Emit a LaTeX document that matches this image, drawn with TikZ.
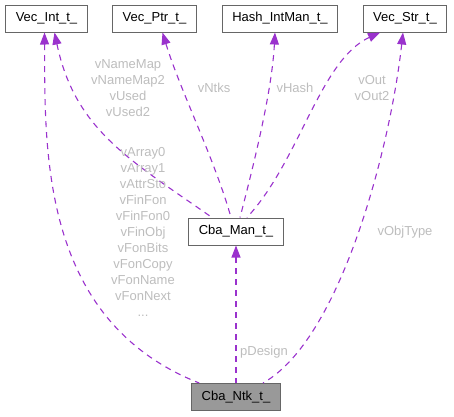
\documentclass[tikz,border=0pt]{standalone}
\usepackage{fontspec}
\setmainfont{Liberation Sans}
\usetikzlibrary{arrows.meta}
\definecolor{edgepurple}{HTML}{9A32CD}
\definecolor{boxgray}{HTML}{666666}
\definecolor{labelgray}{HTML}{BDBDBD}
\begin{document}
\begin{tikzpicture}[x=1pt,y=-1pt,
  structbox/.style={draw=boxgray,line width=1pt,fill=white,minimum height=27pt,inner xsep=10pt,inner ysep=2pt,font=\fontsize{13}{16}\selectfont},
  usage/.style={draw=edgepurple,line width=1.1pt,dash pattern=on 6pt off 5pt,{Triangle[length=12pt,width=9pt]}-},
  memberlabel/.style={text=labelgray,align=center,font=\fontsize{13}{16}\selectfont}]
\useasboundingbox (0,0) rectangle (454,416);
\node[structbox] (vecint) at (46.5,18.5) {Vec\_Int\_t\_};
\node[structbox] (vecptr) at (154.5,18.5) {Vec\_Ptr\_t\_};
\node[structbox] (hashint) at (280,18.5) {Hash\_IntMan\_t\_};
\node[structbox] (vecstr) at (405,18.5) {Vec\_Str\_t\_};
\node[structbox] (cbaman) at (236,231.5) {Cba\_Man\_t\_};
\node[structbox,fill=black!40] (cbantk) at (236,397) {Cba\_Ntk\_t\_};
\draw[usage] ([xshift=-2pt]vecint.south) .. controls (45,150) and (40,320) .. ([xshift=8pt]cbantk.north west);
\draw[usage] ([xshift=8pt]vecint.south) .. controls (75,130) and (130,160) .. ([xshift=-24pt]cbaman.north);
\draw[usage] ([xshift=8pt]vecptr.south) .. controls (180,90) and (215,160) .. ([xshift=-5pt]cbaman.north);
\draw[usage] ([xshift=-5pt]hashint.south) .. controls (272,90) and (255,160) .. ([xshift=4pt]cbaman.north);
\draw[usage] ([xshift=-25pt]vecstr.south) .. controls (320,60) and (300,160) .. ([xshift=11pt]cbaman.north);
\draw[usage] ([xshift=-2pt]vecstr.south) .. controls (390,150) and (340,340) .. ([xshift=27pt]cbantk.north);
\draw[usage] (cbaman.south) -- (cbantk.north);
\node[memberlabel] (lblmanint) at (128,88) {vNameMap\\vNameMap2\\vUsed\\vUsed2};
\node[memberlabel] (lblntkint) at (143,232) {vArray0\\vArray1\\vAttrSto\\vFinFon\\vFinFon0\\vFinObj\\vFonBits\\vFonCopy\\vFonName\\vFonNext\\...};
\node[memberlabel] (lblptr) at (214,88) {vNtks};
\node[memberlabel] (lblhash) at (295,88) {vHash};
\node[memberlabel] (lblout) at (372,88) {vOut\\vOut2};
\node[memberlabel] (lblobj) at (405,232) {vObjType};
\node[memberlabel] (lbldesign) at (264,352) {pDesign};
\end{tikzpicture}
\end{document}
